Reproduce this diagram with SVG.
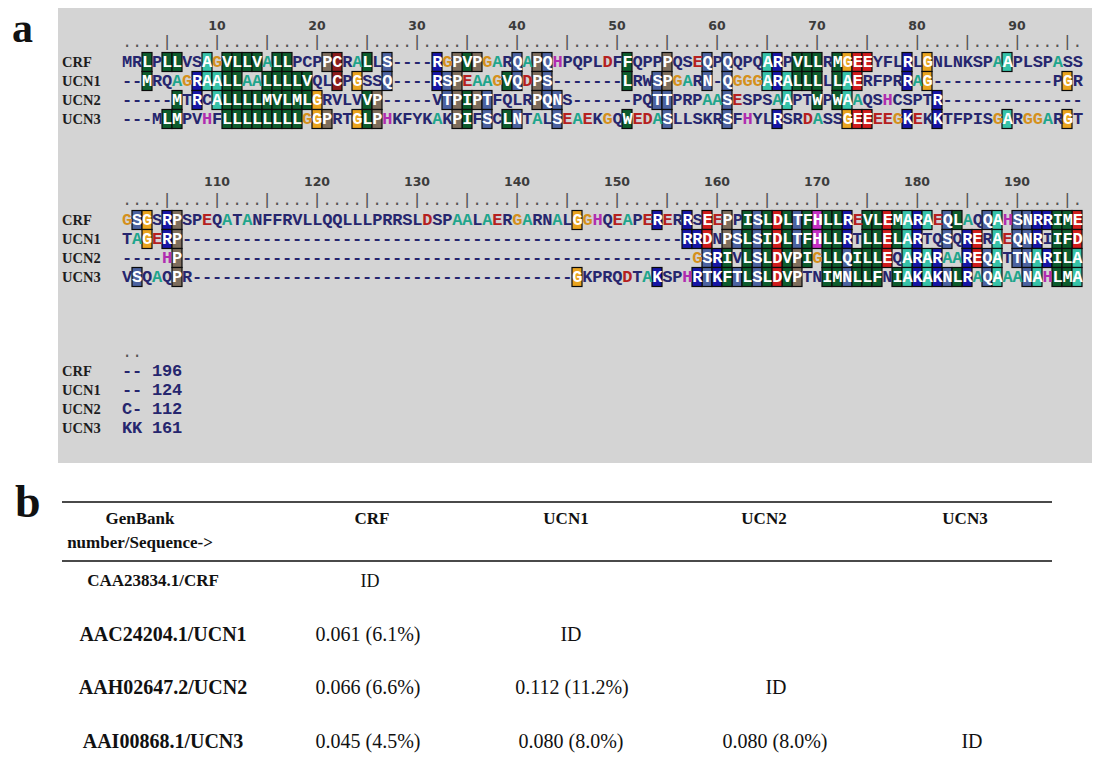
<svg xmlns="http://www.w3.org/2000/svg" width="1103" height="774" viewBox="0 0 1103 774">
<style>
.seq{font-family:"Liberation Mono","DejaVu Sans Mono",monospace;font-size:17px;font-weight:bold;letter-spacing:-0.2px;fill:#26266e}
.w{fill:#ffffff}
.tg{fill:#d4901c}.te{fill:#b52020}.ta{fill:#1fa58c}.tm{fill:#b02cb0}
.rul{font-family:"Liberation Mono","DejaVu Sans Mono",monospace;font-size:17px;letter-spacing:-0.2px;fill:#555}
.lab{font-family:"Liberation Serif","Times New Roman",serif;font-size:14.5px;font-weight:bold;fill:#1c1c1c}
.num{font-family:"DejaVu Sans",sans-serif;font-size:12.5px;font-weight:bold;fill:#3c3c3c;text-anchor:middle}
.big{font-family:"Liberation Serif","Times New Roman",serif;font-size:42px;font-weight:bold;fill:#111}
.th{font-family:"Liberation Serif","Times New Roman",serif;font-size:17px;font-weight:bold;fill:#111;text-anchor:middle}
.rl{font-family:"Liberation Serif","Times New Roman",serif;font-size:20px;font-weight:bold;fill:#111;text-anchor:middle}
.td{font-family:"Liberation Serif","Times New Roman",serif;font-size:20px;fill:#111;text-anchor:middle}
.h{fill:#0d5c2d}.a{fill:#36c2a8}.b{fill:#1616a6}.d{fill:#d01c1c}.g{fill:#eaa41e}.p{fill:#7d6d5c}.s{fill:#4b62a0}.m{fill:#c42ec4}.c{fill:#8c1c1c}
</style>
<defs>
<rect id="k" width="10" height="19" stroke="#0a0a0a" stroke-width="1.2"/>
</defs>
<rect width="1103" height="774" fill="#fff"/>
<text class="big" x="12" y="42">a</text>
<rect x="58" y="8" width="1034" height="455" fill="#d4d4d4"/>

<g id="block1">
<g class="num"><text x="217" y="30">10</text><text x="317" y="30">20</text><text x="417" y="30">30</text><text x="517" y="30">40</text><text x="617" y="30">50</text><text x="717" y="30">60</text><text x="817" y="30">70</text><text x="917" y="30">80</text><text x="1017" y="30">90</text></g>
<text class="rul" x="122" y="47">....|....|....|....|....|....|....|....|....|....|....|....|....|....|....|....|....|....|....|.</text>
<g class="lab"><text x="62" y="67">CRF</text><text x="62" y="86">UCN1</text><text x="62" y="105">UCN2</text><text x="62" y="124">UCN3</text></g>

<g id="bx11" transform="translate(0,52.5)">
<g class="h"><use href="#k" x="142"/><use href="#k" x="162"/><use href="#k" x="172"/><use href="#k" x="222"/><use href="#k" x="232"/><use href="#k" x="242"/><use href="#k" x="252"/><use href="#k" x="272"/><use href="#k" x="282"/><use href="#k" x="362"/><use href="#k" x="462"/><use href="#k" x="622"/><use href="#k" x="792"/><use href="#k" x="802"/><use href="#k" x="812"/><use href="#k" x="832"/></g>
<g class="a"><use href="#k" x="202"/><use href="#k" x="762"/><use href="#k" x="1002"/></g>
<g class="p"><use href="#k" x="322"/><use href="#k" x="452"/><use href="#k" x="472"/><use href="#k" x="532"/><use href="#k" x="662"/></g>
<g class="c"><use href="#k" x="332"/></g>
<g class="s"><use href="#k" x="382"/><use href="#k" x="512"/><use href="#k" x="542"/><use href="#k" x="702"/><use href="#k" x="722"/></g>
<g class="b"><use href="#k" x="432"/><use href="#k" x="772"/><use href="#k" x="902"/></g>
<g class="g"><use href="#k" x="842"/><use href="#k" x="922"/></g>
<g class="d"><use href="#k" x="852"/><use href="#k" x="862"/></g>
</g>
<text class="seq" x="122" y="67">MR<tspan class="w">L</tspan>P<tspan class="w">LL</tspan>VS<tspan class="w">A</tspan><tspan class="tg">G</tspan><tspan class="w">VLLV</tspan><tspan class="ta">A</tspan><tspan class="w">LL</tspan>PCP<tspan class="w">PC</tspan>R<tspan class="ta">A</tspan><tspan class="w">L</tspan>L<tspan class="w">S</tspan>----<tspan class="w">R</tspan><tspan class="tg">G</tspan><tspan class="w">PVP</tspan><tspan class="tg">G</tspan><tspan class="ta">A</tspan>R<tspan class="w">Q</tspan><tspan class="ta">A</tspan><tspan class="w">PQ</tspan><tspan class="tm">H</tspan>PQPL<tspan class="te">D</tspan>F<tspan class="w">F</tspan>QPP<tspan class="w">P</tspan>QS<tspan class="te">E</tspan><tspan class="w">Q</tspan>P<tspan class="w">Q</tspan>QPQ<tspan class="w">AR</tspan>P<tspan class="w">VLL</tspan>R<tspan class="w">MGEE</tspan>YFL<tspan class="w">R</tspan>L<tspan class="w">G</tspan>NLNKSP<tspan class="ta">A</tspan><tspan class="w">A</tspan>PLSP<tspan class="ta">A</tspan>SS</text>

<g id="bx12" transform="translate(0,71.5)">
<g class="h"><use href="#k" x="142"/><use href="#k" x="222"/><use href="#k" x="232"/><use href="#k" x="262"/><use href="#k" x="272"/><use href="#k" x="282"/><use href="#k" x="292"/><use href="#k" x="302"/><use href="#k" x="502"/><use href="#k" x="622"/><use href="#k" x="792"/><use href="#k" x="802"/><use href="#k" x="812"/><use href="#k" x="832"/></g>
<g class="b"><use href="#k" x="192"/><use href="#k" x="432"/><use href="#k" x="772"/><use href="#k" x="902"/></g>
<g class="a"><use href="#k" x="202"/><use href="#k" x="212"/><use href="#k" x="762"/><use href="#k" x="782"/><use href="#k" x="842"/></g>
<g class="c"><use href="#k" x="332"/></g>
<g class="g"><use href="#k" x="352"/><use href="#k" x="922"/><use href="#k" x="1062"/></g>
<g class="s"><use href="#k" x="382"/><use href="#k" x="442"/><use href="#k" x="512"/><use href="#k" x="542"/><use href="#k" x="652"/><use href="#k" x="702"/><use href="#k" x="722"/></g>
<g class="p"><use href="#k" x="452"/><use href="#k" x="532"/><use href="#k" x="662"/></g>
<g class="d"><use href="#k" x="852"/></g>
</g>
<text class="seq" x="122" y="86">--<tspan class="w">M</tspan>RQ<tspan class="ta">A</tspan><tspan class="tg">G</tspan><tspan class="w">RAALL</tspan><tspan class="ta">AA</tspan><tspan class="w">LLLLV</tspan>QL<tspan class="w">C</tspan>P<tspan class="w">G</tspan>SS<tspan class="w">Q</tspan>----<tspan class="w">RSP</tspan><tspan class="te">E</tspan><tspan class="ta">AA</tspan><tspan class="tg">G</tspan><tspan class="w">VQ</tspan><tspan class="te">D</tspan><tspan class="w">PS</tspan>-------<tspan class="w">L</tspan>RW<tspan class="w">SP</tspan><tspan class="tg">G</tspan><tspan class="ta">A</tspan>R<tspan class="w">N</tspan>-<tspan class="w">Q</tspan><tspan class="tg">GGG</tspan><tspan class="w">ARALLL</tspan>L<tspan class="w">LAE</tspan>RFPR<tspan class="w">R</tspan><tspan class="ta">A</tspan><tspan class="w">G</tspan>------------P<tspan class="w">G</tspan>R</text>

<g id="bx13" transform="translate(0,90.5)">
<g class="h"><use href="#k" x="172"/><use href="#k" x="222"/><use href="#k" x="232"/><use href="#k" x="242"/><use href="#k" x="252"/><use href="#k" x="262"/><use href="#k" x="272"/><use href="#k" x="282"/><use href="#k" x="292"/><use href="#k" x="302"/><use href="#k" x="362"/><use href="#k" x="462"/><use href="#k" x="812"/><use href="#k" x="832"/></g>
<g class="b"><use href="#k" x="192"/><use href="#k" x="932"/></g>
<g class="a"><use href="#k" x="212"/><use href="#k" x="782"/><use href="#k" x="842"/></g>
<g class="g"><use href="#k" x="312"/></g>
<g class="p"><use href="#k" x="372"/><use href="#k" x="452"/><use href="#k" x="472"/><use href="#k" x="532"/></g>
<g class="s"><use href="#k" x="442"/><use href="#k" x="482"/><use href="#k" x="542"/><use href="#k" x="552"/><use href="#k" x="652"/><use href="#k" x="662"/><use href="#k" x="722"/></g>
</g>
<text class="seq" x="122" y="105">-----<tspan class="w">M</tspan>T<tspan class="w">R</tspan>C<tspan class="w">ALLLLMVLMLG</tspan>RVLV<tspan class="w">VP</tspan>-----V<tspan class="w">TPIPT</tspan>FQLR<tspan class="w">PQN</tspan>S------PQ<tspan class="w">TT</tspan>PRP<tspan class="ta">AA</tspan><tspan class="w">S</tspan><tspan class="te">E</tspan>SPS<tspan class="ta">A</tspan><tspan class="w">A</tspan>PT<tspan class="w">W</tspan>P<tspan class="w">WA</tspan><tspan class="ta">A</tspan>QS<tspan class="tm">H</tspan>CSPT<tspan class="w">R</tspan>--------------</text>

<g id="bx14" transform="translate(0,109.5)">
<g class="h"><use href="#k" x="162"/><use href="#k" x="172"/><use href="#k" x="222"/><use href="#k" x="232"/><use href="#k" x="242"/><use href="#k" x="252"/><use href="#k" x="262"/><use href="#k" x="272"/><use href="#k" x="282"/><use href="#k" x="292"/><use href="#k" x="362"/><use href="#k" x="462"/><use href="#k" x="502"/><use href="#k" x="622"/></g>
<g class="g"><use href="#k" x="312"/><use href="#k" x="352"/><use href="#k" x="842"/><use href="#k" x="1062"/></g>
<g class="p"><use href="#k" x="322"/><use href="#k" x="372"/><use href="#k" x="452"/></g>
<g class="s"><use href="#k" x="482"/><use href="#k" x="512"/><use href="#k" x="552"/><use href="#k" x="662"/><use href="#k" x="722"/></g>
<g class="b"><use href="#k" x="772"/><use href="#k" x="902"/><use href="#k" x="932"/></g>
<g class="d"><use href="#k" x="852"/><use href="#k" x="862"/></g>
<g class="a"><use href="#k" x="1002"/></g>
</g>
<text class="seq" x="122" y="124">---M<tspan class="w">LM</tspan>PV<tspan class="tm">H</tspan>F<tspan class="w">LLLLLLLL</tspan><tspan class="tg">G</tspan><tspan class="w">GP</tspan>RT<tspan class="w">GLP</tspan><tspan class="tm">H</tspan>KFYK<tspan class="ta">A</tspan>K<tspan class="w">PI</tspan>F<tspan class="w">S</tspan>C<tspan class="w">LN</tspan>T<tspan class="ta">A</tspan>L<tspan class="w">S</tspan><tspan class="te">E</tspan><tspan class="ta">A</tspan><tspan class="te">E</tspan>K<tspan class="tg">G</tspan>Q<tspan class="w">W</tspan><tspan class="te">ED</tspan><tspan class="ta">A</tspan><tspan class="w">S</tspan>LLSKR<tspan class="w">S</tspan>F<tspan class="tm">H</tspan>YL<tspan class="w">R</tspan>SR<tspan class="te">D</tspan><tspan class="ta">A</tspan>SS<tspan class="w">GEE</tspan><tspan class="te">EE</tspan><tspan class="tg">G</tspan><tspan class="w">K</tspan><tspan class="te">E</tspan>K<tspan class="w">K</tspan>TFPIS<tspan class="tg">G</tspan><tspan class="w">A</tspan>R<tspan class="tg">GG</tspan><tspan class="ta">A</tspan>R<tspan class="w">G</tspan>T</text>
</g>

<g id="block2">
<g class="num"><text x="217" y="186">110</text><text x="317" y="186">120</text><text x="417" y="186">130</text><text x="517" y="186">140</text><text x="617" y="186">150</text><text x="717" y="186">160</text><text x="817" y="186">170</text><text x="917" y="186">180</text><text x="1017" y="186">190</text></g>
<text class="rul" x="122" y="205">....|....|....|....|....|....|....|....|....|....|....|....|....|....|....|....|....|....|....|.</text>
<g class="lab"><text x="62" y="225">CRF</text><text x="62" y="244">UCN1</text><text x="62" y="263">UCN2</text><text x="62" y="282">UCN3</text></g>

<g id="bx21" transform="translate(0,210.5)">
<g class="s"><use href="#k" x="132"/><use href="#k" x="752"/><use href="#k" x="792"/><use href="#k" x="942"/><use href="#k" x="982"/><use href="#k" x="1012"/><use href="#k" x="1022"/></g>
<g class="g"><use href="#k" x="142"/><use href="#k" x="572"/></g>
<g class="b"><use href="#k" x="162"/><use href="#k" x="652"/><use href="#k" x="682"/><use href="#k" x="842"/><use href="#k" x="912"/><use href="#k" x="1032"/><use href="#k" x="1042"/></g>
<g class="p"><use href="#k" x="172"/><use href="#k" x="722"/></g>
<g class="d"><use href="#k" x="702"/><use href="#k" x="772"/><use href="#k" x="882"/><use href="#k" x="1072"/></g>
<g class="h"><use href="#k" x="742"/><use href="#k" x="762"/><use href="#k" x="782"/><use href="#k" x="802"/><use href="#k" x="822"/><use href="#k" x="832"/><use href="#k" x="862"/><use href="#k" x="872"/><use href="#k" x="892"/><use href="#k" x="952"/><use href="#k" x="1052"/><use href="#k" x="1062"/></g>
<g class="m"><use href="#k" x="812"/></g>
<g class="a"><use href="#k" x="902"/><use href="#k" x="922"/><use href="#k" x="992"/></g>
</g>
<text class="seq" x="122" y="225"><tspan class="tg">G</tspan><tspan class="w">SG</tspan>S<tspan class="w">RP</tspan>SP<tspan class="te">E</tspan>Q<tspan class="ta">A</tspan>T<tspan class="ta">A</tspan>NFFRVLLQQLLLPRRSL<tspan class="te">D</tspan>SP<tspan class="ta">AA</tspan>L<tspan class="ta">A</tspan><tspan class="te">E</tspan>R<tspan class="tg">G</tspan><tspan class="ta">A</tspan>RN<tspan class="ta">A</tspan>L<tspan class="w">G</tspan><tspan class="tg">G</tspan><tspan class="tm">H</tspan>Q<tspan class="te">E</tspan><tspan class="ta">A</tspan>P<tspan class="te">E</tspan><tspan class="w">R</tspan><tspan class="te">E</tspan>R<tspan class="w">R</tspan>S<tspan class="w">E</tspan><tspan class="te">E</tspan><tspan class="w">P</tspan>P<tspan class="w">ISLDLTFHLLR</tspan><tspan class="te">E</tspan><tspan class="w">VLEMARA</tspan><tspan class="te">E</tspan><tspan class="w">QL</tspan><tspan class="ta">A</tspan>Q<tspan class="w">QA</tspan><tspan class="tm">H</tspan><tspan class="w">SNRRIME</tspan></text>

<g id="bx22" transform="translate(0,229.5)">
<g class="g"><use href="#k" x="142"/></g>
<g class="b"><use href="#k" x="162"/><use href="#k" x="682"/><use href="#k" x="692"/><use href="#k" x="842"/><use href="#k" x="912"/><use href="#k" x="962"/><use href="#k" x="1032"/></g>
<g class="p"><use href="#k" x="172"/><use href="#k" x="722"/></g>
<g class="d"><use href="#k" x="702"/><use href="#k" x="772"/><use href="#k" x="882"/><use href="#k" x="972"/><use href="#k" x="1072"/></g>
<g class="s"><use href="#k" x="732"/><use href="#k" x="752"/><use href="#k" x="792"/><use href="#k" x="942"/><use href="#k" x="1012"/><use href="#k" x="1022"/></g>
<g class="h"><use href="#k" x="742"/><use href="#k" x="762"/><use href="#k" x="782"/><use href="#k" x="802"/><use href="#k" x="822"/><use href="#k" x="832"/><use href="#k" x="862"/><use href="#k" x="872"/><use href="#k" x="892"/><use href="#k" x="1052"/><use href="#k" x="1062"/></g>
<g class="m"><use href="#k" x="812"/></g>
<g class="a"><use href="#k" x="902"/><use href="#k" x="992"/></g>
</g>
<text class="seq" x="122" y="244">T<tspan class="ta">A</tspan><tspan class="w">G</tspan><tspan class="te">E</tspan><tspan class="w">RP</tspan>--------------------------------------------------<tspan class="w">RRD</tspan>N<tspan class="w">PSLSIDLTFHLLR</tspan>T<tspan class="w">LLELAR</tspan>TQ<tspan class="w">S</tspan>Q<tspan class="w">RE</tspan>R<tspan class="w">A</tspan><tspan class="te">E</tspan><tspan class="w">QNR</tspan>I<tspan class="w">IFD</tspan></text>

<g id="bx23" transform="translate(0,248.5)">
<g class="p"><use href="#k" x="172"/><use href="#k" x="792"/></g>
<g class="s"><use href="#k" x="702"/><use href="#k" x="752"/><use href="#k" x="842"/><use href="#k" x="982"/><use href="#k" x="1012"/><use href="#k" x="1022"/></g>
<g class="b"><use href="#k" x="712"/><use href="#k" x="912"/><use href="#k" x="932"/><use href="#k" x="962"/><use href="#k" x="1042"/></g>
<g class="h"><use href="#k" x="722"/><use href="#k" x="742"/><use href="#k" x="762"/><use href="#k" x="782"/><use href="#k" x="802"/><use href="#k" x="822"/><use href="#k" x="832"/><use href="#k" x="852"/><use href="#k" x="862"/><use href="#k" x="872"/><use href="#k" x="1052"/><use href="#k" x="1062"/></g>
<g class="d"><use href="#k" x="772"/><use href="#k" x="882"/><use href="#k" x="972"/></g>
<g class="a"><use href="#k" x="902"/><use href="#k" x="922"/><use href="#k" x="992"/><use href="#k" x="1032"/><use href="#k" x="1072"/></g>
</g>
<text class="seq" x="122" y="263">----<tspan class="tm">H</tspan><tspan class="w">P</tspan>---------------------------------------------------<tspan class="tg">G</tspan><tspan class="w">SRI</tspan>V<tspan class="w">LSLDVPI</tspan><tspan class="tg">G</tspan><tspan class="w">LLQILLE</tspan>Q<tspan class="w">ARAR</tspan><tspan class="ta">AA</tspan><tspan class="w">REQA</tspan>T<tspan class="w">TNARILA</tspan></text>

<g id="bx24" transform="translate(0,267.5)">
<g class="s"><use href="#k" x="132"/><use href="#k" x="702"/><use href="#k" x="732"/><use href="#k" x="752"/><use href="#k" x="842"/><use href="#k" x="942"/><use href="#k" x="982"/><use href="#k" x="1022"/></g>
<g class="p"><use href="#k" x="172"/><use href="#k" x="792"/></g>
<g class="g"><use href="#k" x="572"/></g>
<g class="b"><use href="#k" x="652"/><use href="#k" x="692"/><use href="#k" x="712"/><use href="#k" x="912"/><use href="#k" x="932"/><use href="#k" x="962"/></g>
<g class="h"><use href="#k" x="722"/><use href="#k" x="742"/><use href="#k" x="762"/><use href="#k" x="782"/><use href="#k" x="822"/><use href="#k" x="832"/><use href="#k" x="852"/><use href="#k" x="862"/><use href="#k" x="872"/><use href="#k" x="892"/><use href="#k" x="952"/><use href="#k" x="1052"/><use href="#k" x="1062"/></g>
<g class="d"><use href="#k" x="772"/></g>
<g class="a"><use href="#k" x="902"/><use href="#k" x="922"/><use href="#k" x="992"/><use href="#k" x="1032"/><use href="#k" x="1072"/></g>
</g>
<text class="seq" x="122" y="282">V<tspan class="w">S</tspan>Q<tspan class="ta">A</tspan>Q<tspan class="w">P</tspan>R--------------------------------------<tspan class="w">G</tspan>KPRQ<tspan class="te">D</tspan>T<tspan class="ta">A</tspan><tspan class="w">K</tspan>SP<tspan class="tm">H</tspan><tspan class="w">RTKFTLSLDVP</tspan>TN<tspan class="w">IMNLLF</tspan>N<tspan class="w">IAKAKNLR</tspan><tspan class="ta">A</tspan><tspan class="w">QA</tspan><tspan class="ta">AA</tspan><tspan class="w">NA</tspan><tspan class="tm">H</tspan><tspan class="w">LMA</tspan></text>
</g>

<g id="block3">
<text class="rul" x="122" y="357">..</text>
<g class="lab"><text x="62" y="376">CRF</text><text x="62" y="395">UCN1</text><text x="62" y="414">UCN2</text><text x="62" y="433">UCN3</text></g>
<g class="seq" style="white-space:pre"><text x="122" y="376">-- 196</text><text x="122" y="395">-- 124</text><text x="122" y="414">C- 112</text><text x="122" y="433">KK 161</text></g>
</g>

<g id="table">
<text class="big" x="15" y="517" style="font-size:46px">b</text>
<line x1="62" y1="502" x2="1052" y2="502" stroke="#4a4a4a" stroke-width="2"/>
<line x1="62" y1="561" x2="1052" y2="561" stroke="#4a4a4a" stroke-width="2"/>
<text class="th" x="140" y="524">GenBank</text>
<text class="th" x="140" y="548">number/Sequence-&gt;</text>
<text class="th" x="372" y="524">CRF</text>
<text class="th" x="566" y="524">UCN1</text>
<text class="th" x="764" y="524">UCN2</text>
<text class="th" x="965" y="524">UCN3</text>
<text class="th" x="153" y="586">CAA23834.1/CRF</text>
<text class="td" x="370" y="587" style="font-size:18px">ID</text>
<text class="rl" x="163" y="641">AAC24204.1/UCN1</text>
<text class="td" x="368" y="641">0.061 (6.1%)</text>
<text class="td" x="571" y="641">ID</text>
<text class="rl" x="163" y="694">AAH02647.2/UCN2</text>
<text class="td" x="368" y="694">0.066 (6.6%)</text>
<text class="td" x="572" y="694">0.112 (11.2%)</text>
<text class="td" x="776" y="694">ID</text>
<text class="rl" x="163" y="748">AAI00868.1/UCN3</text>
<text class="td" x="368" y="748">0.045 (4.5%)</text>
<text class="td" x="571" y="748">0.080 (8.0%)</text>
<text class="td" x="775" y="748">0.080 (8.0%)</text>
<text class="td" x="972" y="748">ID</text>
</g>
</svg>
